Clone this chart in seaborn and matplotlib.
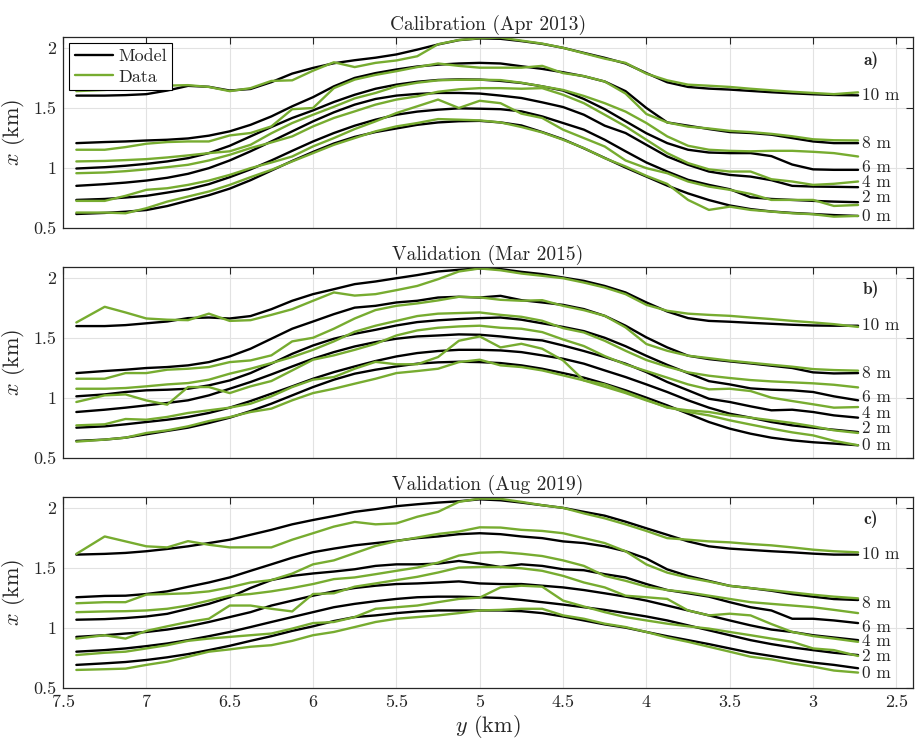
import matplotlib
matplotlib.use("Agg")
import matplotlib.pyplot as plt
import seaborn as sns
from matplotlib.lines import Line2D

# ---------------- data ----------------
Y_POS = [7.42, 7.25, 7.125, 7.0, 6.875, 6.75, 6.625, 6.5, 6.375, 6.25,
         6.125, 6.0, 5.875, 5.75, 5.625, 5.5, 5.375, 5.25, 5.125, 5.0,
         4.875, 4.75, 4.625, 4.5, 4.375, 4.25, 4.125, 4.0, 3.875, 3.75,
         3.625, 3.5, 3.375, 3.25, 3.125, 3.0, 2.875, 2.73]

LEVELS = ["0 m", "2 m", "4 m", "6 m", "8 m", "10 m"]
TITLES = ["Calibration (Apr 2013)", "Validation (Mar 2015)", "Validation (Aug 2019)"]
TAGS = ["a)", "b)", "c)"]

# Panel a (Apr 2013)
A_M0 = [0.619, 0.628, 0.638, 0.652, 0.685, 0.73, 0.775, 0.83, 0.9, 0.98, 1.06, 1.135, 1.205, 1.26, 1.30, 1.33, 1.36, 1.38, 1.39, 1.393, 1.38, 1.355, 1.30, 1.24, 1.165, 1.085, 1.005, 0.93, 0.855, 0.79, 0.735, 0.69, 0.66, 0.64, 0.628, 0.619, 0.61, 0.603]
A_D0 = [0.631, 0.631, 0.625, 0.667, 0.722, 0.764, 0.806, 0.861, 0.925, 0.986, 1.056, 1.125, 1.194, 1.25, 1.306, 1.347, 1.375, 1.408, 1.403, 1.397, 1.38, 1.342, 1.297, 1.236, 1.167, 1.083, 1.014, 0.936, 0.869, 0.736, 0.653, 0.68, 0.653, 0.639, 0.625, 0.617, 0.597, 0.603]
A_M2 = [0.736, 0.744, 0.756, 0.77, 0.797, 0.825, 0.867, 0.925, 0.99, 1.064, 1.144, 1.222, 1.292, 1.353, 1.403, 1.444, 1.47, 1.486, 1.497, 1.494, 1.49, 1.472, 1.43, 1.375, 1.32, 1.236, 1.14, 1.047, 0.972, 0.903, 0.861, 0.825, 0.758, 0.744, 0.736, 0.728, 0.722, 0.717]
A_D2 = [0.728, 0.728, 0.77, 0.82, 0.833, 0.861, 0.897, 0.944, 1.0, 1.047, 1.097, 1.181, 1.25, 1.325, 1.389, 1.458, 1.514, 1.57, 1.50, 1.56, 1.54, 1.453, 1.417, 1.32, 1.25, 1.18, 1.064, 1.0, 0.958, 0.889, 0.847, 0.82, 0.786, 0.736, 0.736, 0.736, 0.686, 0.694]
A_M4 = [0.853, 0.867, 0.88, 0.897, 0.92, 0.953, 1.0, 1.064, 1.14, 1.222, 1.306, 1.389, 1.464, 1.528, 1.575, 1.603, 1.617, 1.625, 1.625, 1.62, 1.603, 1.583, 1.547, 1.508, 1.444, 1.353, 1.292, 1.194, 1.097, 1.028, 0.972, 0.944, 0.93, 0.90, 0.853, 0.847, 0.845, 0.842]
A_D4 = [0.958, 0.964, 0.975, 0.99, 1.008, 1.028, 1.064, 1.111, 1.167, 1.214, 1.264, 1.347, 1.417, 1.472, 1.528, 1.57, 1.597, 1.635, 1.655, 1.665, 1.665, 1.66, 1.665, 1.61, 1.54, 1.444, 1.347, 1.236, 1.125, 1.042, 0.99, 0.972, 0.972, 0.908, 0.889, 0.861, 0.87, 0.889]
A_M6 = [0.997, 1.008, 1.02, 1.036, 1.056, 1.083, 1.125, 1.186, 1.264, 1.342, 1.417, 1.48, 1.55, 1.61, 1.66, 1.694, 1.718, 1.733, 1.738, 1.736, 1.725, 1.708, 1.68, 1.645, 1.575, 1.49, 1.39, 1.29, 1.208, 1.153, 1.13, 1.125, 1.125, 1.10, 1.03, 0.99, 0.986, 0.986]
A_D6 = [1.056, 1.06, 1.067, 1.075, 1.089, 1.106, 1.125, 1.14, 1.194, 1.29, 1.375, 1.444, 1.51, 1.58, 1.625, 1.68, 1.71, 1.73, 1.735, 1.735, 1.732, 1.71, 1.68, 1.65, 1.60, 1.54, 1.47, 1.375, 1.264, 1.186, 1.153, 1.144, 1.14, 1.144, 1.144, 1.136, 1.125, 1.097]
A_M8 = [1.208, 1.217, 1.222, 1.23, 1.236, 1.247, 1.27, 1.306, 1.36, 1.43, 1.514, 1.59, 1.68, 1.75, 1.79, 1.82, 1.845, 1.86, 1.87, 1.875, 1.87, 1.847, 1.825, 1.797, 1.764, 1.72, 1.64, 1.50, 1.38, 1.353, 1.325, 1.30, 1.292, 1.278, 1.25, 1.222, 1.208, 1.208]
A_D8 = [1.153, 1.153, 1.175, 1.203, 1.217, 1.222, 1.222, 1.272, 1.292, 1.347, 1.49, 1.50, 1.665, 1.736, 1.775, 1.806, 1.84, 1.87, 1.85, 1.835, 1.835, 1.835, 1.85, 1.79, 1.765, 1.72, 1.62, 1.45, 1.38, 1.345, 1.33, 1.31, 1.30, 1.285, 1.265, 1.24, 1.232, 1.23]
A_M10 = [1.603, 1.603, 1.607, 1.615, 1.645, 1.684, 1.676, 1.645, 1.658, 1.715, 1.786, 1.833, 1.872, 1.897, 1.918, 1.945, 1.985, 2.028, 2.064, 2.078, 2.075, 2.056, 2.033, 2.0, 1.958, 1.917, 1.87, 1.79, 1.714, 1.675, 1.661, 1.653, 1.642, 1.631, 1.622, 1.614, 1.608, 1.605]
A_D10 = [1.64, 1.65, 1.66, 1.67, 1.686, 1.69, 1.675, 1.64, 1.665, 1.725, 1.73, 1.81, 1.88, 1.84, 1.875, 1.895, 1.93, 2.03, 2.065, 2.08, 2.085, 2.06, 2.035, 2.0, 1.955, 1.91, 1.875, 1.785, 1.73, 1.694, 1.685, 1.675, 1.66, 1.647, 1.635, 1.625, 1.615, 1.63]

# Panel b (Mar 2015)
B_M0 = [0.644, 0.655, 0.671, 0.699, 0.727, 0.754, 0.793, 0.837, 0.892, 0.953, 1.022, 1.091, 1.152, 1.202, 1.235, 1.262, 1.285, 1.296, 1.301, 1.298, 1.29, 1.271, 1.243, 1.207, 1.169, 1.119, 1.064, 1.003, 0.939, 0.87, 0.801, 0.746, 0.704, 0.671, 0.649, 0.633, 0.622, 0.608]
B_D0 = [0.638, 0.655, 0.671, 0.71, 0.732, 0.765, 0.809, 0.842, 0.884, 0.912, 0.981, 1.041, 1.077, 1.119, 1.16, 1.207, 1.224, 1.243, 1.298, 1.318, 1.271, 1.257, 1.229, 1.188, 1.146, 1.094, 1.041, 0.98, 0.925, 0.884, 0.856, 0.815, 0.78, 0.746, 0.715, 0.69, 0.645, 0.608]
B_M2 = [0.754, 0.765, 0.782, 0.801, 0.82, 0.843, 0.876, 0.92, 0.975, 1.036, 1.097, 1.16, 1.215, 1.262, 1.307, 1.345, 1.373, 1.39, 1.40, 1.40, 1.395, 1.381, 1.354, 1.326, 1.285, 1.229, 1.174, 1.113, 1.05, 0.981, 0.92, 0.87, 0.837, 0.801, 0.773, 0.754, 0.737, 0.718]
B_D2 = [0.773, 0.782, 0.826, 0.82, 0.843, 0.876, 0.898, 0.92, 0.953, 1.014, 1.091, 1.152, 1.174, 1.243, 1.30, 1.28, 1.28, 1.34, 1.475, 1.511, 1.42, 1.45, 1.409, 1.312, 1.146, 1.113, 1.05, 0.986, 0.92, 0.898, 0.884, 0.856, 0.837, 0.815, 0.793, 0.765, 0.732, 0.71]
B_M4 = [0.884, 0.903, 0.92, 0.939, 0.959, 0.981, 1.022, 1.077, 1.133, 1.196, 1.262, 1.326, 1.381, 1.428, 1.464, 1.492, 1.511, 1.519, 1.528, 1.525, 1.511, 1.492, 1.478, 1.436, 1.39, 1.34, 1.285, 1.215, 1.133, 1.064, 0.994, 0.967, 0.931, 0.898, 0.903, 0.884, 0.856, 0.837]
B_D4 = [0.967, 1.022, 1.03, 0.98, 0.945, 1.091, 1.091, 1.041, 1.097, 1.141, 1.229, 1.318, 1.354, 1.40, 1.45, 1.519, 1.561, 1.583, 1.594, 1.60, 1.583, 1.575, 1.547, 1.486, 1.431, 1.348, 1.279, 1.224, 1.169, 1.113, 1.072, 1.077, 1.058, 1.003, 0.975, 0.948, 0.92, 0.925]
B_M6 = [1.014, 1.03, 1.05, 1.064, 1.069, 1.077, 1.105, 1.146, 1.207, 1.285, 1.367, 1.436, 1.492, 1.533, 1.566, 1.602, 1.63, 1.645, 1.655, 1.663, 1.668, 1.65, 1.62, 1.59, 1.555, 1.50, 1.43, 1.35, 1.275, 1.207, 1.14, 1.113, 1.08, 1.069, 1.064, 1.05, 1.014, 0.981]
B_D6 = [1.077, 1.077, 1.083, 1.097, 1.113, 1.124, 1.152, 1.202, 1.243, 1.29, 1.34, 1.40, 1.47, 1.55, 1.60, 1.64, 1.68, 1.70, 1.705, 1.71, 1.69, 1.674, 1.641, 1.58, 1.544, 1.475, 1.392, 1.315, 1.26, 1.213, 1.185, 1.166, 1.149, 1.138, 1.13, 1.122, 1.11, 1.088]
B_M8 = [1.207, 1.224, 1.235, 1.249, 1.257, 1.271, 1.298, 1.345, 1.409, 1.492, 1.575, 1.635, 1.696, 1.75, 1.765, 1.793, 1.807, 1.834, 1.84, 1.834, 1.848, 1.812, 1.793, 1.773, 1.738, 1.682, 1.60, 1.503, 1.42, 1.351, 1.323, 1.304, 1.287, 1.268, 1.249, 1.213, 1.204, 1.207]
B_D8 = [1.16, 1.16, 1.207, 1.207, 1.235, 1.243, 1.257, 1.298, 1.312, 1.354, 1.47, 1.50, 1.575, 1.66, 1.73, 1.765, 1.785, 1.81, 1.84, 1.835, 1.815, 1.807, 1.812, 1.765, 1.729, 1.682, 1.586, 1.448, 1.392, 1.351, 1.331, 1.31, 1.293, 1.276, 1.26, 1.24, 1.232, 1.227]
B_M10 = [1.597, 1.597, 1.605, 1.62, 1.635, 1.663, 1.668, 1.66, 1.68, 1.737, 1.807, 1.862, 1.903, 1.945, 1.967, 1.994, 2.02, 2.05, 2.064, 2.075, 2.07, 2.047, 2.028, 2.0, 1.972, 1.93, 1.876, 1.793, 1.718, 1.663, 1.64, 1.633, 1.624, 1.616, 1.608, 1.602, 1.6, 1.6]
B_D10 = [1.627, 1.757, 1.71, 1.66, 1.65, 1.646, 1.70, 1.64, 1.646, 1.69, 1.737, 1.807, 1.876, 1.85, 1.862, 1.895, 1.93, 1.986, 2.05, 2.075, 2.06, 2.033, 2.014, 1.994, 1.958, 1.917, 1.862, 1.773, 1.724, 1.70, 1.69, 1.682, 1.668, 1.655, 1.64, 1.627, 1.613, 1.59]

# Panel c (Aug 2019)
C_M0 = [0.69, 0.703, 0.714, 0.731, 0.753, 0.78, 0.813, 0.849, 0.89, 0.929, 0.973, 1.011, 1.055, 1.088, 1.102, 1.121, 1.135, 1.143, 1.143, 1.143, 1.143, 1.137, 1.121, 1.093, 1.06, 1.027, 1.0, 0.964, 0.929, 0.896, 0.863, 0.827, 0.791, 0.764, 0.736, 0.709, 0.69, 0.662]
C_D0 = [0.648, 0.654, 0.659, 0.69, 0.717, 0.758, 0.80, 0.819, 0.841, 0.854, 0.89, 0.937, 0.964, 1.005, 1.047, 1.074, 1.088, 1.102, 1.121, 1.143, 1.148, 1.157, 1.157, 1.102, 1.074, 1.033, 1.005, 0.964, 0.918, 0.882, 0.841, 0.80, 0.758, 0.736, 0.703, 0.676, 0.643, 0.626]
C_M2 = [0.80, 0.813, 0.827, 0.846, 0.868, 0.896, 0.929, 0.964, 1.005, 1.047, 1.088, 1.129, 1.17, 1.198, 1.22, 1.239, 1.253, 1.258, 1.258, 1.253, 1.247, 1.231, 1.212, 1.192, 1.17, 1.148, 1.121, 1.093, 1.06, 1.019, 0.978, 0.937, 0.896, 0.863, 0.835, 0.813, 0.791, 0.772]
C_D2 = [0.772, 0.791, 0.80, 0.827, 0.854, 0.89, 0.909, 0.923, 0.937, 0.951, 0.992, 1.038, 1.047, 1.088, 1.157, 1.17, 1.184, 1.212, 1.239, 1.25, 1.335, 1.349, 1.341, 1.225, 1.176, 1.129, 1.088, 1.06, 1.033, 1.011, 0.992, 0.964, 0.937, 0.909, 0.882, 0.827, 0.813, 0.764]
C_M4 = [0.923, 0.937, 0.951, 0.964, 0.984, 1.011, 1.047, 1.088, 1.129, 1.184, 1.225, 1.266, 1.302, 1.33, 1.349, 1.363, 1.368, 1.376, 1.385, 1.368, 1.363, 1.363, 1.349, 1.335, 1.313, 1.286, 1.258, 1.225, 1.184, 1.143, 1.102, 1.06, 1.019, 0.984, 0.964, 0.937, 0.918, 0.896]
C_D4 = [0.909, 0.937, 0.909, 0.973, 1.011, 1.047, 1.074, 1.184, 1.184, 1.157, 1.135, 1.28, 1.286, 1.341, 1.368, 1.396, 1.423, 1.459, 1.50, 1.505, 1.505, 1.494, 1.473, 1.431, 1.376, 1.335, 1.266, 1.253, 1.239, 1.143, 1.102, 1.116, 1.102, 1.03, 0.964, 0.93, 0.909, 0.882]
C_M6 = [1.066, 1.071, 1.08, 1.093, 1.115, 1.157, 1.198, 1.253, 1.33, 1.396, 1.431, 1.451, 1.467, 1.486, 1.514, 1.527, 1.527, 1.533, 1.555, 1.533, 1.505, 1.527, 1.514, 1.486, 1.478, 1.445, 1.418, 1.363, 1.313, 1.286, 1.258, 1.212, 1.17, 1.143, 1.074, 1.074, 1.06, 1.038]
C_D6 = [1.129, 1.135, 1.137, 1.143, 1.157, 1.184, 1.225, 1.266, 1.28, 1.302, 1.33, 1.363, 1.404, 1.418, 1.445, 1.473, 1.50, 1.541, 1.60, 1.624, 1.629, 1.615, 1.596, 1.56, 1.514, 1.431, 1.39, 1.341, 1.313, 1.294, 1.266, 1.239, 1.212, 1.198, 1.184, 1.17, 1.148, 1.121]
C_M8 = [1.253, 1.264, 1.266, 1.28, 1.302, 1.34, 1.376, 1.418, 1.473, 1.527, 1.582, 1.628, 1.658, 1.685, 1.704, 1.723, 1.745, 1.759, 1.778, 1.786, 1.778, 1.759, 1.745, 1.718, 1.704, 1.677, 1.636, 1.575, 1.485, 1.43, 1.389, 1.348, 1.329, 1.307, 1.279, 1.258, 1.238, 1.23]
C_D8 = [1.203, 1.212, 1.212, 1.275, 1.28, 1.286, 1.302, 1.335, 1.376, 1.396, 1.45, 1.527, 1.56, 1.62, 1.68, 1.72, 1.75, 1.78, 1.80, 1.835, 1.833, 1.814, 1.805, 1.786, 1.745, 1.704, 1.636, 1.526, 1.458, 1.416, 1.384, 1.348, 1.329, 1.312, 1.293, 1.274, 1.258, 1.244]
C_M10 = [1.608, 1.614, 1.622, 1.636, 1.655, 1.677, 1.704, 1.732, 1.773, 1.814, 1.86, 1.896, 1.929, 1.964, 1.986, 2.011, 2.027, 2.041, 2.052, 2.068, 2.06, 2.041, 2.019, 1.997, 1.964, 1.932, 1.882, 1.827, 1.773, 1.718, 1.677, 1.658, 1.647, 1.636, 1.627, 1.616, 1.608, 1.608]
C_D10 = [1.614, 1.759, 1.718, 1.677, 1.668, 1.72, 1.69, 1.668, 1.668, 1.668, 1.732, 1.786, 1.841, 1.88, 1.86, 1.868, 1.923, 1.964, 2.047, 2.074, 2.072, 2.047, 2.019, 1.997, 1.951, 1.91, 1.86, 1.805, 1.745, 1.732, 1.718, 1.71, 1.696, 1.685, 1.668, 1.649, 1.636, 1.627]

# vertical positions of the level labels (text placement)
LABEL_Y = [
    [0.603, 0.756, 0.88, 1.008, 1.208, 1.603],
    [0.605, 0.749, 0.873, 1.006, 1.204, 1.60],
    [0.616, 0.759, 0.882, 1.005, 1.203, 1.608],
]

MODELS = [
    [A_M0, A_M2, A_M4, A_M6, A_M8, A_M10],
    [B_M0, B_M2, B_M4, B_M6, B_M8, B_M10],
    [C_M0, C_M2, C_M4, C_M6, C_M8, C_M10],
]
DATAS = [
    [A_D0, A_D2, A_D4, A_D6, A_D8, A_D10],
    [B_D0, B_D2, B_D4, B_D6, B_D8, B_D10],
    [C_D0, C_D2, C_D4, C_D6, C_D8, C_D10],
]

X_TICKS = [7.5, 7, 6.5, 6, 5.5, 5, 4.5, 4, 3.5, 3, 2.5]
X_TICKLABELS = ["7.5", "7", "6.5", "6", "5.5", "5", "4.5", "4", "3.5", "3", "2.5"]
Y_TICKS = [0.5, 1, 1.5, 2]
Y_TICKLABELS = ["0.5", "1", "1.5", "2"]

# ---------------- style ----------------
sns.set_style("white")
plt.rcParams["font.family"] = ["cmr10", "DejaVu Serif"]
plt.rcParams["mathtext.fontset"] = "cm"
plt.rcParams["axes.formatter.use_mathtext"] = True
plt.rcParams["axes.unicode_minus"] = False

GREEN = "#77AC30"
BLACK = "#000000"
FRAME = "#262626"

fig = plt.figure(figsize=(9.16, 7.43), dpi=100)
rects = [
    [0.0688, 0.6927, 0.928, 0.2575],
    [0.0688, 0.3832, 0.928, 0.2579],
    [0.0688, 0.0744, 0.928, 0.2571],
]

for i, rect in enumerate(rects):
    ax = fig.add_axes(rect)
    for vals in MODELS[i]:
        sns.lineplot(x=Y_POS, y=vals, ax=ax, color=BLACK, linewidth=1.7,
                     sort=False, estimator=None, legend=False)
    for vals in DATAS[i]:
        sns.lineplot(x=Y_POS, y=vals, ax=ax, color=GREEN, linewidth=1.7,
                     sort=False, estimator=None, legend=False)
    for lab, yy in zip(LEVELS, LABEL_Y[i]):
        ax.text(2.705, yy, lab, fontsize=12.5, va="center", ha="left")
    ax.text(2.70, 1.90, TAGS[i], fontsize=12.5, va="center", ha="left",
            family=["cmb10", "DejaVu Serif"])

    ax.set_xlim(7.5, 2.4)
    ax.set_ylim(0.5, 2.09)
    ax.set_xticks(X_TICKS)
    ax.set_yticks(Y_TICKS)
    ax.set_yticklabels(Y_TICKLABELS)
    if i == 2:
        ax.set_xticklabels(X_TICKLABELS)
        ax.set_xlabel(r"$y$ (km)", fontsize=16, labelpad=2)
    else:
        ax.set_xticklabels([])
    ax.set_ylabel(r"$x$ (km)", fontsize=16, labelpad=4)
    ax.set_title(TITLES[i], fontsize=14, pad=5)
    ax.grid(True, color="#e2e2e2", linewidth=0.8)
    ax.set_axisbelow(True)
    ax.tick_params(direction="in", length=5, width=0.8, top=True, right=True,
                   labelsize=13, color=FRAME, pad=5)
    for sp in ax.spines.values():
        sp.set_color(FRAME)
        sp.set_linewidth(0.9)
        sp.set_visible(True)

    if i == 0:
        handles = [Line2D([0], [0], color=BLACK, lw=1.7),
                   Line2D([0], [0], color=GREEN, lw=1.7)]
        leg = ax.legend(handles, ["Model", "Data"], loc="upper left",
                        fontsize=13, frameon=True, fancybox=False,
                        edgecolor="black", framealpha=1, borderaxespad=0.35,
                        handlelength=2.1, handletextpad=0.3, borderpad=0.3,
                        labelspacing=0.25)
        leg.get_frame().set_linewidth(0.8)

fig.savefig("out.png", dpi=100)
